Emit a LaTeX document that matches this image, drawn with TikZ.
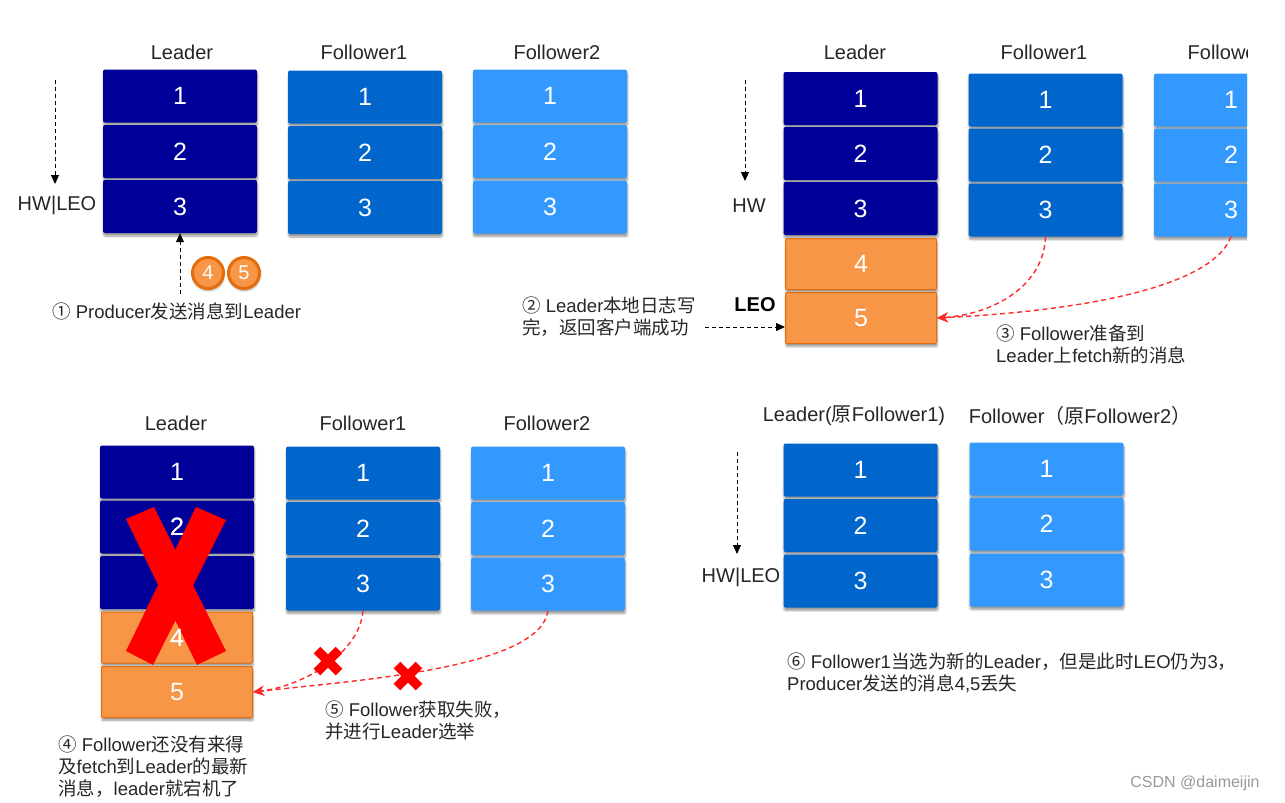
\documentclass[tikz,border=0pt]{standalone}
\usepackage{fontspec}
\setmainfont{Liberation Sans}
\newfontfamily\cjk{Noto Sans CJK SC}
\newcommand\zh[1]{{\cjk #1}}
\usetikzlibrary{arrows.meta,shadows.blur,calc}
\definecolor{cNavy}{HTML}{000099}
\definecolor{cBlueA}{HTML}{0066CC}
\definecolor{cBlueB}{HTML}{3399FF}
\definecolor{cOrange}{HTML}{F79646}
\definecolor{cOrangeD}{HTML}{E46C0A}
\definecolor{cText}{HTML}{262626}
\definecolor{cRed}{HTML}{FF2A2A}
\tikzset{
  cell/.style={rectangle, rounded corners=2pt, minimum width=154pt, minimum height=53pt,
    inner sep=0pt, text=white, font=\fontsize{25}{25}\selectfont,
    blur shadow={shadow blur steps=6, shadow xshift=0.5pt, shadow yshift=-3pt, shadow opacity=40}},
  lcell/.style={cell, fill=cNavy},
  fcellA/.style={cell, fill=cBlueA},
  fcellB/.style={cell, fill=cBlueB},
  ocell/.style={cell, fill=cOrange, draw=cOrangeD, line width=1pt, minimum width=151pt, minimum height=51pt, rounded corners=1pt},
  title/.style={text=cText, font=\fontsize{20}{20}\selectfont, inner sep=0pt},
  note/.style={text=cText, font=\fontsize{18.5}{22}\selectfont, align=left, anchor=west, inner sep=0pt},
  bdash/.style={draw=black, line width=1pt, dash pattern=on 4pt off 3pt, -{Triangle[width=8pt,length=9pt]}},
  rdash/.style={draw=cRed, line width=1.4pt, dash pattern=on 5pt off 3.5pt, -{Stealth[width=10pt,length=11pt]}},
  badge/.style={circle, fill=cOrange, draw=cOrangeD, line width=3pt, minimum size=31pt, inner sep=0pt,
    text=white, font=\fontsize{20}{20}\selectfont,
    blur shadow={shadow blur steps=5, shadow xshift=0.5pt, shadow yshift=-2pt, shadow opacity=40}},
  xmark/.style={draw=red, line width=9.5pt},
}
\begin{document}
\begin{tikzpicture}[x=1pt,y=-1pt]
\useasboundingbox (0,0) rectangle (1285,803);

%% ---------- top-left panel ----------
\node[title] (tlL) at (182,52) {Leader};
\node[title] (tlF1) at (364,52) {Follower1};
\node[title] (tlF2) at (557,52) {Follower2};
\node[lcell] (ltl1) at (180,96) {1};
\node[lcell] (ltl2) at (180,151.5) {2};
\node[lcell] (ltl3) at (180,206.5) {3};
\node[fcellA] (f1tl1) at (365,97) {1};
\node[fcellA] (f1tl2) at (365,152.5) {2};
\node[fcellA] (f1tl3) at (365,207.5) {3};
\node[fcellB] (f2tl1) at (550,96) {1};
\node[fcellB] (f2tl2) at (550,151.5) {2};
\node[fcellB] (f2tl3) at (550,207) {3};
\node[title] (hwtl) at (57,205) {HW|LEO};
\coordinate (hwtlA) at (55,80);
\coordinate (hwtlB) at (55,184);
\draw[bdash] (hwtlA) -- (hwtlB);
\coordinate (prodA) at (180,294);
\draw[bdash] (prodA) -- (ltl3.south);
\node[badge] (b4) at (208,273) {4};
\node[badge] (b5) at (244,273) {5};
\node[note] (n1) at (52,311) {\zh{①} Producer\zh{发送消息到}Leader};

%% ---------- top-right panel ----------
\node[title] (trL) at (855,52) {Leader};
\node[title] (trF1) at (1044,52) {Follower1};
\node[lcell] (ltr1) at (860.5,98.5) {1};
\node[lcell] (ltr2) at (860.5,153.5) {2};
\node[lcell] (ltr3) at (860.5,208.5) {3};
\node[ocell] (ltr4) at (861,264) {4};
\node[ocell] (ltr5) at (861,318) {5};
\node[fcellA] (f1tr1) at (1045.5,100) {1};
\node[fcellA] (f1tr2) at (1045.5,155) {2};
\node[fcellA] (f1tr3) at (1045.5,210) {3};
\begin{scope}
\clip (0,0) rectangle (1247,803);
\node[title] (trF2) at (1231,52) {Follower2};
\node[fcellB] (f2tr1) at (1231,100) {1};
\node[fcellB] (f2tr2) at (1231,155) {2};
\node[fcellB] (f2tr3) at (1231,210) {3};
\end{scope}
\node[title] (hwtr) at (749,206) {HW};
\coordinate (hwtrA) at (745,80);
\coordinate (hwtrB) at (745,181);
\draw[bdash] (hwtrA) -- (hwtrB);
\node[title, font=\bfseries\fontsize{20}{20}\selectfont, text=black] (leotr) at (755,305) {LEO};
\node[note] (n2) at (522,316.5) {\zh{②} Leader\zh{本地日志写}\\\zh{完，返回客户端成功}};
\coordinate (ackA) at (705,327);
\draw[bdash] (ackA) -- (ackA -| ltr5.west);
\draw[rdash] (f1tr3.south) .. controls (1044,285) and (995,314) .. (ltr5.east);
\draw[rdash] (f2tr3.south) .. controls (1210,292) and (1060,312) .. (ltr5.east);
\node[note] (n3) at (996,344.5) {\zh{③} Follower\zh{准备到}\\Leader\zh{上}fetch\zh{新的消息}};

%% ---------- bottom-left panel ----------
\node[title] (blL) at (176,423) {Leader};
\node[title] (blF1) at (363,423) {Follower1};
\node[title] (blF2) at (547,423) {Follower2};
\node[lcell] (lbl1) at (177,472) {1};
\node[lcell] (lbl2) at (177,527) {2};
\node[lcell] (lbl3) at (177,582.5) {3};
\node[ocell] (lbl4) at (177,637.5) {4};
\node[ocell] (lbl5) at (177,692) {5};
\node[fcellA] (f1bl1) at (363,473) {1};
\node[fcellA] (f1bl2) at (363,528.5) {2};
\node[fcellA] (f1bl3) at (363,584) {3};
\node[fcellB] (f2bl1) at (548,473) {1};
\node[fcellB] (f2bl2) at (548,528.5) {2};
\node[fcellB] (f2bl3) at (548,584) {3};
% big red X over the crashed leader
\fill[red] (126,519) -- (154,507) -- (226,651) -- (197,665) -- cycle;
\fill[red] (196,507) -- (226,520) -- (153,665) -- (126,651) -- cycle;
\node[text=white, font=\fontsize{25}{25}\selectfont] (lbl2t) at (lbl2) {2};
\node[text=white, font=\fontsize{25}{25}\selectfont] (lbl4t) at (lbl4) {4};
\draw[rdash] (f1bl3.south) .. controls (360,652) and (305,686) .. (lbl5.east);
\draw[rdash] (f2bl3.south) .. controls (540,668) and (360,680) .. (lbl5.east);
\coordinate (xa) at (328,661);
\coordinate (xb) at (408,676);
\draw[xmark] ($(xa)+(-11,-11)$) -- ($(xa)+(11,11)$) ($(xa)+(-11,11)$) -- ($(xa)+(11,-11)$);
\draw[xmark] ($(xb)+(-11,-11)$) -- ($(xb)+(11,11)$) ($(xb)+(-11,11)$) -- ($(xb)+(11,-11)$);
\node[note] (n5) at (325,720) {\zh{⑤} Follower\zh{获取失败，}\\\zh{并进行}Leader\zh{选举}};
\node[note] (n4) at (58,766.5) {\zh{④} Follower\zh{还没有来得}\\\zh{及}fetch\zh{到}Leader\zh{的最新}\\\zh{消息，}leader\zh{就宕机了}};

%% ---------- bottom-right panel ----------
\node[title] (brL) at (854,416) {Leader(\zh{原}Follower1)};
\node[title] (brF) at (1080,416) {Follower\zh{（原}Follower2\zh{）}};
\node[fcellA] (lbr1) at (860.5,470) {1};
\node[fcellA] (lbr2) at (860.5,525.5) {2};
\node[fcellA] (lbr3) at (860.5,581) {3};
\node[fcellB] (fbr1) at (1046.5,469) {1};
\node[fcellB] (fbr2) at (1046.5,524) {2};
\node[fcellB] (fbr3) at (1046.5,580) {3};
\node[title] (hwbr) at (741,577) {HW|LEO};
\coordinate (hwbrA) at (737,452);
\coordinate (hwbrB) at (737,554);
\draw[bdash] (hwbrA) -- (hwbrB);
\node[note] (n6) at (787,672.5) {\zh{⑥} Follower1\zh{当选为新的}Leader\zh{，但是此时}LEO\zh{仍为}3\zh{，}\\Producer\zh{发送的消息}4,5\zh{丢失}};

\node[text=gray!80, font=\fontsize{16}{16}\selectfont, inner sep=0pt] (wm) at (1195,783) {CSDN @daimeijin};
\end{tikzpicture}
\end{document}
